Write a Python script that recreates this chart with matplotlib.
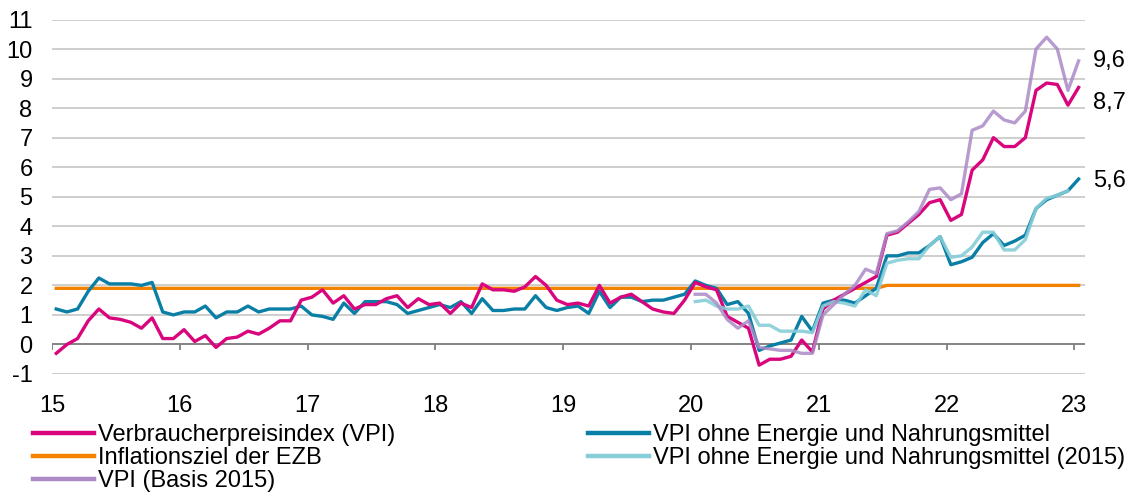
import matplotlib
matplotlib.use("Agg")
import matplotlib.pyplot as plt
from matplotlib.lines import Line2D
import numpy as np

plt.rcParams['font.family'] = ['Liberation Sans Narrow', 'Liberation Sans', 'DejaVu Sans']
plt.rcParams['axes.unicode_minus'] = False

# monthly values, Jan 2015 .. Jan 2023
vpi = [-0.3, 0.0, 0.2, 0.8, 1.2, 0.9, 0.85, 0.75, 0.55, 0.9, 0.2, 0.2,
       0.5, 0.1, 0.3, -0.1, 0.2, 0.25, 0.45, 0.35, 0.55, 0.8, 0.8, 1.5,
       1.6, 1.85, 1.4, 1.65, 1.2, 1.35, 1.35, 1.55, 1.65, 1.25, 1.55, 1.35,
       1.4, 1.05, 1.4, 1.25, 2.05, 1.85, 1.85, 1.8, 1.95, 2.3, 2.0, 1.5,
       1.35, 1.4, 1.3, 2.0, 1.4, 1.6, 1.7, 1.45, 1.2, 1.1, 1.05, 1.5,
       2.1, 1.95, 1.85, 0.95, 0.75, 0.55, -0.7, -0.5, -0.5, -0.4, 0.15, -0.25,
       1.2, 1.5, 1.7, 1.9, 2.1, 2.3, 3.7, 3.8, 4.1, 4.4, 4.8, 4.9,
       4.2, 4.4, 5.9, 6.25, 7.0, 6.7, 6.7, 7.0, 8.6, 8.85, 8.8, 8.1,
       8.7]

kern = [1.2, 1.1, 1.2, 1.8, 2.25, 2.05, 2.05, 2.05, 2.0, 2.1, 1.1, 1.0,
        1.1, 1.1, 1.3, 0.9, 1.1, 1.1, 1.3, 1.1, 1.2, 1.2, 1.2, 1.3,
        1.0, 0.95, 0.85, 1.4, 1.05, 1.45, 1.45, 1.45, 1.35, 1.05, 1.15, 1.25,
        1.35, 1.25, 1.45, 1.05, 1.55, 1.15, 1.15, 1.2, 1.2, 1.65, 1.25, 1.15,
        1.25, 1.3, 1.05, 1.8, 1.25, 1.6, 1.6, 1.45, 1.5, 1.5, 1.6, 1.7,
        2.15, 2.0, 1.9, 1.35, 1.45, 1.05, -0.2, -0.05, 0.05, 0.15, 0.95, 0.45,
        1.4, 1.5, 1.5, 1.4, 1.65, 1.9, 3.0, 3.0, 3.1, 3.1, 3.35, 3.65,
        2.7, 2.8, 2.95, 3.45, 3.75, 3.35, 3.5, 3.7, 4.6, 4.9, 5.05, 5.2,
        5.6]

# ECB target: 1.9 until Jun 2021, 2.0 afterwards
ziel = [1.9] * 78 + [2.0] * 19

# series on 2015 basis start in Jan 2020 (month 60)
kern_2015 = [1.45, 1.5, 1.3, 1.2, 1.2, 1.3, 0.65, 0.65, 0.45, 0.45, 0.45, 0.4,
             1.3, 1.45, 1.4, 1.3, 1.85, 1.65, 2.75, 2.85, 2.9, 2.9, 3.35, 3.65,
             2.95, 3.0, 3.3, 3.8, 3.8, 3.2, 3.2, 3.55, 4.6, 4.95, 5.05, 5.2]
vpi_2015 = [1.7, 1.7, 1.4, 0.85, 0.55, 0.8, -0.1, -0.15, -0.2, -0.2, -0.3, -0.3,
            1.0, 1.35, 1.7, 2.0, 2.55, 2.4, 3.75, 3.85, 4.15, 4.5, 5.25, 5.3,
            4.9, 5.1, 7.25, 7.4, 7.9, 7.6, 7.5, 7.9, 10.0, 10.4, 10.0, 8.6,
            9.6]

year_labels = ['15', '16', '17', '18', '19', '20', '21', '22', '23']

c_vpi = '#d9057d'
c_kern = '#0a7fa6'
c_ziel = '#f28200'
c_kern15 = '#86cdd8'
c_vpi15 = '#ab8ac6'

x = np.arange(len(vpi))
x15 = np.arange(60, 60 + len(vpi_2015))
xk15 = np.arange(60, 60 + len(kern_2015))
year_ticks = np.arange(len(year_labels)) * 12 - 0.4

fig = plt.figure(figsize=(11.31, 5.0), dpi=100)
ax = fig.add_axes([52 / 1131, 126 / 500, 1033 / 1131, 354.5 / 500])

lw = 2.4
ax.plot(x, ziel, color=c_ziel, lw=lw, zorder=2)
ax.plot(x, kern, color=c_kern, lw=lw, zorder=3)
ax.plot(x, vpi, color=c_vpi, lw=lw, zorder=3)
ax.plot(xk15, kern_2015, color=c_kern15, lw=lw, zorder=4, alpha=0.9)
ax.plot(x15, vpi_2015, color=c_vpi15, lw=lw, zorder=5, alpha=0.85)

ax.set_xlim(-0.4, 96.6)
ax.set_ylim(-1, 11)
ax.set_yticks(range(-1, 12))
ax.yaxis.grid(True, color='#c6c6c6', lw=1.2)
ax.set_axisbelow(True)
ax.axhline(0, color='#7f7f7f', lw=1.3, zorder=1.5)
ax.vlines(year_ticks, -0.2, 0, color='#7f7f7f', lw=1.3, zorder=1.5)
for s in ax.spines.values():
    s.set_visible(False)

ax.set_xticks(year_ticks)
ax.set_xticklabels(year_labels)
ax.tick_params(axis='x', length=0, pad=15, labelsize=17)
ax.tick_params(axis='y', length=0, pad=14, labelsize=17)

# end labels
for vals, xs, txt, dy in [(vpi_2015, x15, '9,6', 0), (vpi, x, '8,7', -16), (kern, x, '5,6', -2)]:
    ax.annotate(txt, xy=(xs[-1], vals[-1]), xytext=(14, dy), textcoords='offset pixels',
                ha='left', va='center', fontsize=17, annotation_clip=False)

def h(c):
    return Line2D([], [], color=c, lw=3.2)

leg_kw = dict(frameon=False, fontsize=17, handlelength=2.6, handletextpad=0.15,
              labelspacing=0.05, borderpad=0, borderaxespad=0)
fig.legend([h(c_vpi), h(c_ziel), h(c_vpi15)],
           ['Verbraucherpreisindex (VPI)', 'Inflationsziel der EZB', 'VPI (Basis 2015)'],
           loc='upper left', bbox_to_anchor=(33 / 1131, 1 - 424 / 500), **leg_kw)
fig.legend([h(c_kern), h(c_kern15)],
           ['VPI ohne Energie und Nahrungsmittel', 'VPI ohne Energie und Nahrungsmittel (2015)'],
           loc='upper left', bbox_to_anchor=(588 / 1131, 1 - 424 / 500), **leg_kw)

fig.savefig('out.png', dpi=100)
